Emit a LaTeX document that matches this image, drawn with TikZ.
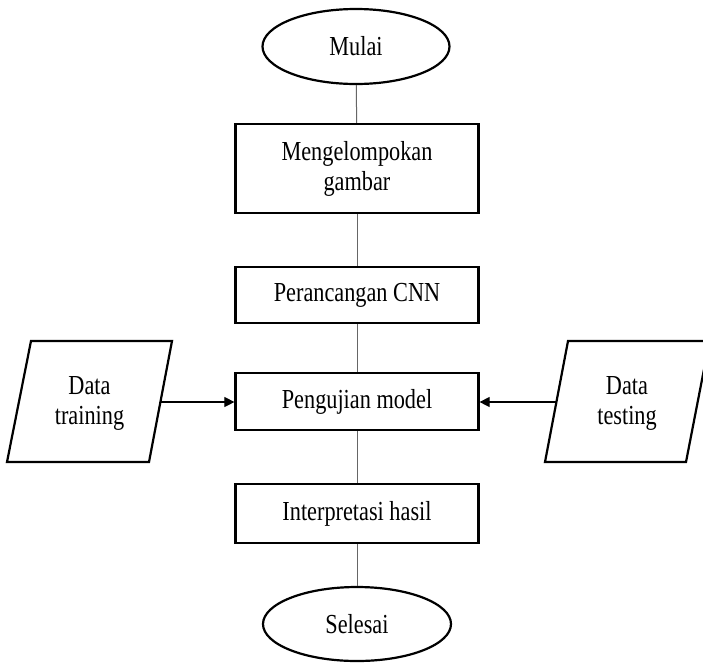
\documentclass[tikz,border=0pt]{standalone}
\usepackage{fontspec}
\setmainfont[FakeStretch=0.81]{Liberation Serif}
\usetikzlibrary{shapes.geometric,arrows.meta}
\begin{document}
\begin{tikzpicture}[x=1pt,y=1pt,
  every node/.style={font=\fontsize{27.5}{30}\selectfont, align=center, inner sep=0pt},
  procbox/.style={draw, line width=2.2pt, minimum width=243pt},
  termnode/.style={draw, ellipse, line width=2.2pt},
  link/.style={draw=black!60, line width=1pt},
  feed/.style={draw=black, line width=1.1pt, -{Triangle[length=10pt,width=10pt]}},
  iobox/.style={draw, line width=2.2pt, line join=miter}
]
\useasboundingbox (0,0) rectangle (703,-662);
\clip (0,0) rectangle (703,-662);
\fill[white] (0,0) rectangle (703,-662);

\node[termnode, minimum width=187pt, minimum height=75pt] (mulai) at (356,-46.5) {Mulai};
\node[procbox, minimum height=89pt] (kelompok) at (357,-168.5) {Mengelompokan\\gambar};
\node[procbox, minimum height=56pt] (cnn) at (357,-295) {Perancangan CNN};
\node[procbox, minimum height=57pt] (uji) at (357,-401.5) {Pengujian model};
\node[procbox, minimum height=59pt] (interp) at (357,-513.5) {Interpretasi hasil};
\node[termnode, minimum width=188pt, minimum height=74pt] (selesai) at (357,-624) {Selesai};

% Data training parallelogram
\draw[iobox] (31,-341) -- (172,-341) -- (149,-462) -- (7,-462) -- cycle;
\node (train) at (89.5,-403) {Data\\training};
\coordinate (trainout) at (160.4,-402);

% Data testing parallelogram
\draw[iobox] (568,-341) -- (709.5,-341) -- (686,-462) -- (545,-462) -- cycle;
\node (test) at (627,-403) {Data\\testing};
\coordinate (testout) at (556.4,-402);

\draw[link] (mulai) -- (kelompok);
\draw[link] (kelompok) -- (cnn);
\draw[link] (cnn) -- (uji);
\draw[link] (uji) -- (interp);
\draw[link] (interp) -- (selesai);

\draw[feed] (trainout) -- (trainout -| uji.west);
\draw[feed] (testout) -- (testout -| uji.east);
\end{tikzpicture}
\end{document}
